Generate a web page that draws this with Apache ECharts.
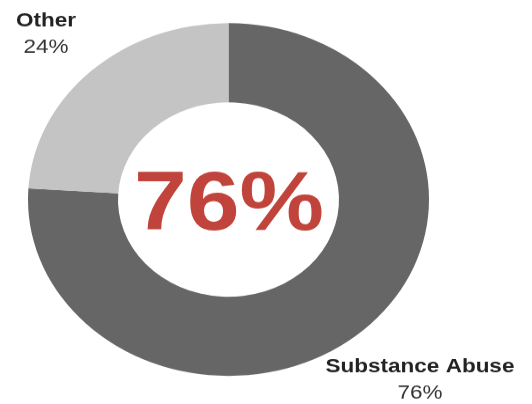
<!DOCTYPE html>
<html>
<head>
<meta charset="utf-8">
<script src="https://cdn.jsdelivr.net/npm/echarts@6/dist/echarts.min.js"></script>
<style>
  html, body { margin: 0; padding: 0; background: #fff; overflow: hidden; }
  /* the reference is squashed vertically, so the chart is drawn taller and scaled */
  #chart { width: 532px; height: 459px; transform: scaleY(0.88); transform-origin: 0 0; }
</style>
</head>
<body>
<div id="chart"></div>
<script>
  var categories = ['Substance Abuse', 'Other']
  var values = [76, 24]
  var colors = ['#666666', '#c4c4c4']

  var FONT = '"Liberation Sans", Arial, sans-serif'
  var total = values.reduce(function (a, b) { return a + b }, 0)
  var mainPct = Math.round(values[0] / total * 100)

  // 标签位置（未缩放坐标）
  var labelSpots = [
    { x: 420, y: 432 },
    { x: 46, y: 39 }
  ]

  var chart = echarts.init(document.getElementById('chart'))
  chart.setOption({
    animation: false,
    graphic: [{
      type: 'text',
      x: 229,
      y: 235,
      style: {
        text: mainPct + '%',
        align: 'center',
        verticalAlign: 'middle',
        fill: '#c0443b',
        font: 'bold 95px ' + FONT
      }
    }],
    series: [{
      type: 'pie',
      center: [228.5, 226.7],
      radius: [110.5, 200.5],
      startAngle: 90,
      clockwise: true,
      silent: true,
      itemStyle: { borderWidth: 0 },
      labelLine: { show: false },
      label: {
        show: true,
        overflow: 'none',
        edgeDistance: 0,
        formatter: function (p) {
          return '{b|' + p.name + '}\n{p|' + Math.round(p.value / total * 100) + '%}'
        },
        rich: {
          b: { fontFamily: FONT, fontWeight: 'bold', fontSize: 22.5, color: '#222', lineHeight: 30, align: 'center' },
          p: { fontFamily: FONT, fontSize: 22.5, color: '#333', lineHeight: 30, align: 'center' }
        }
      },
      labelLayout: function (params) {
        var s = labelSpots[params.dataIndex]
        return { x: s.x, y: s.y, align: 'center', verticalAlign: 'middle', width: 220 }
      },
      data: categories.map(function (c, i) {
        return { name: c, value: values[i], itemStyle: { color: colors[i] } }
      })
    }]
  })
</script>
</body>
</html>
